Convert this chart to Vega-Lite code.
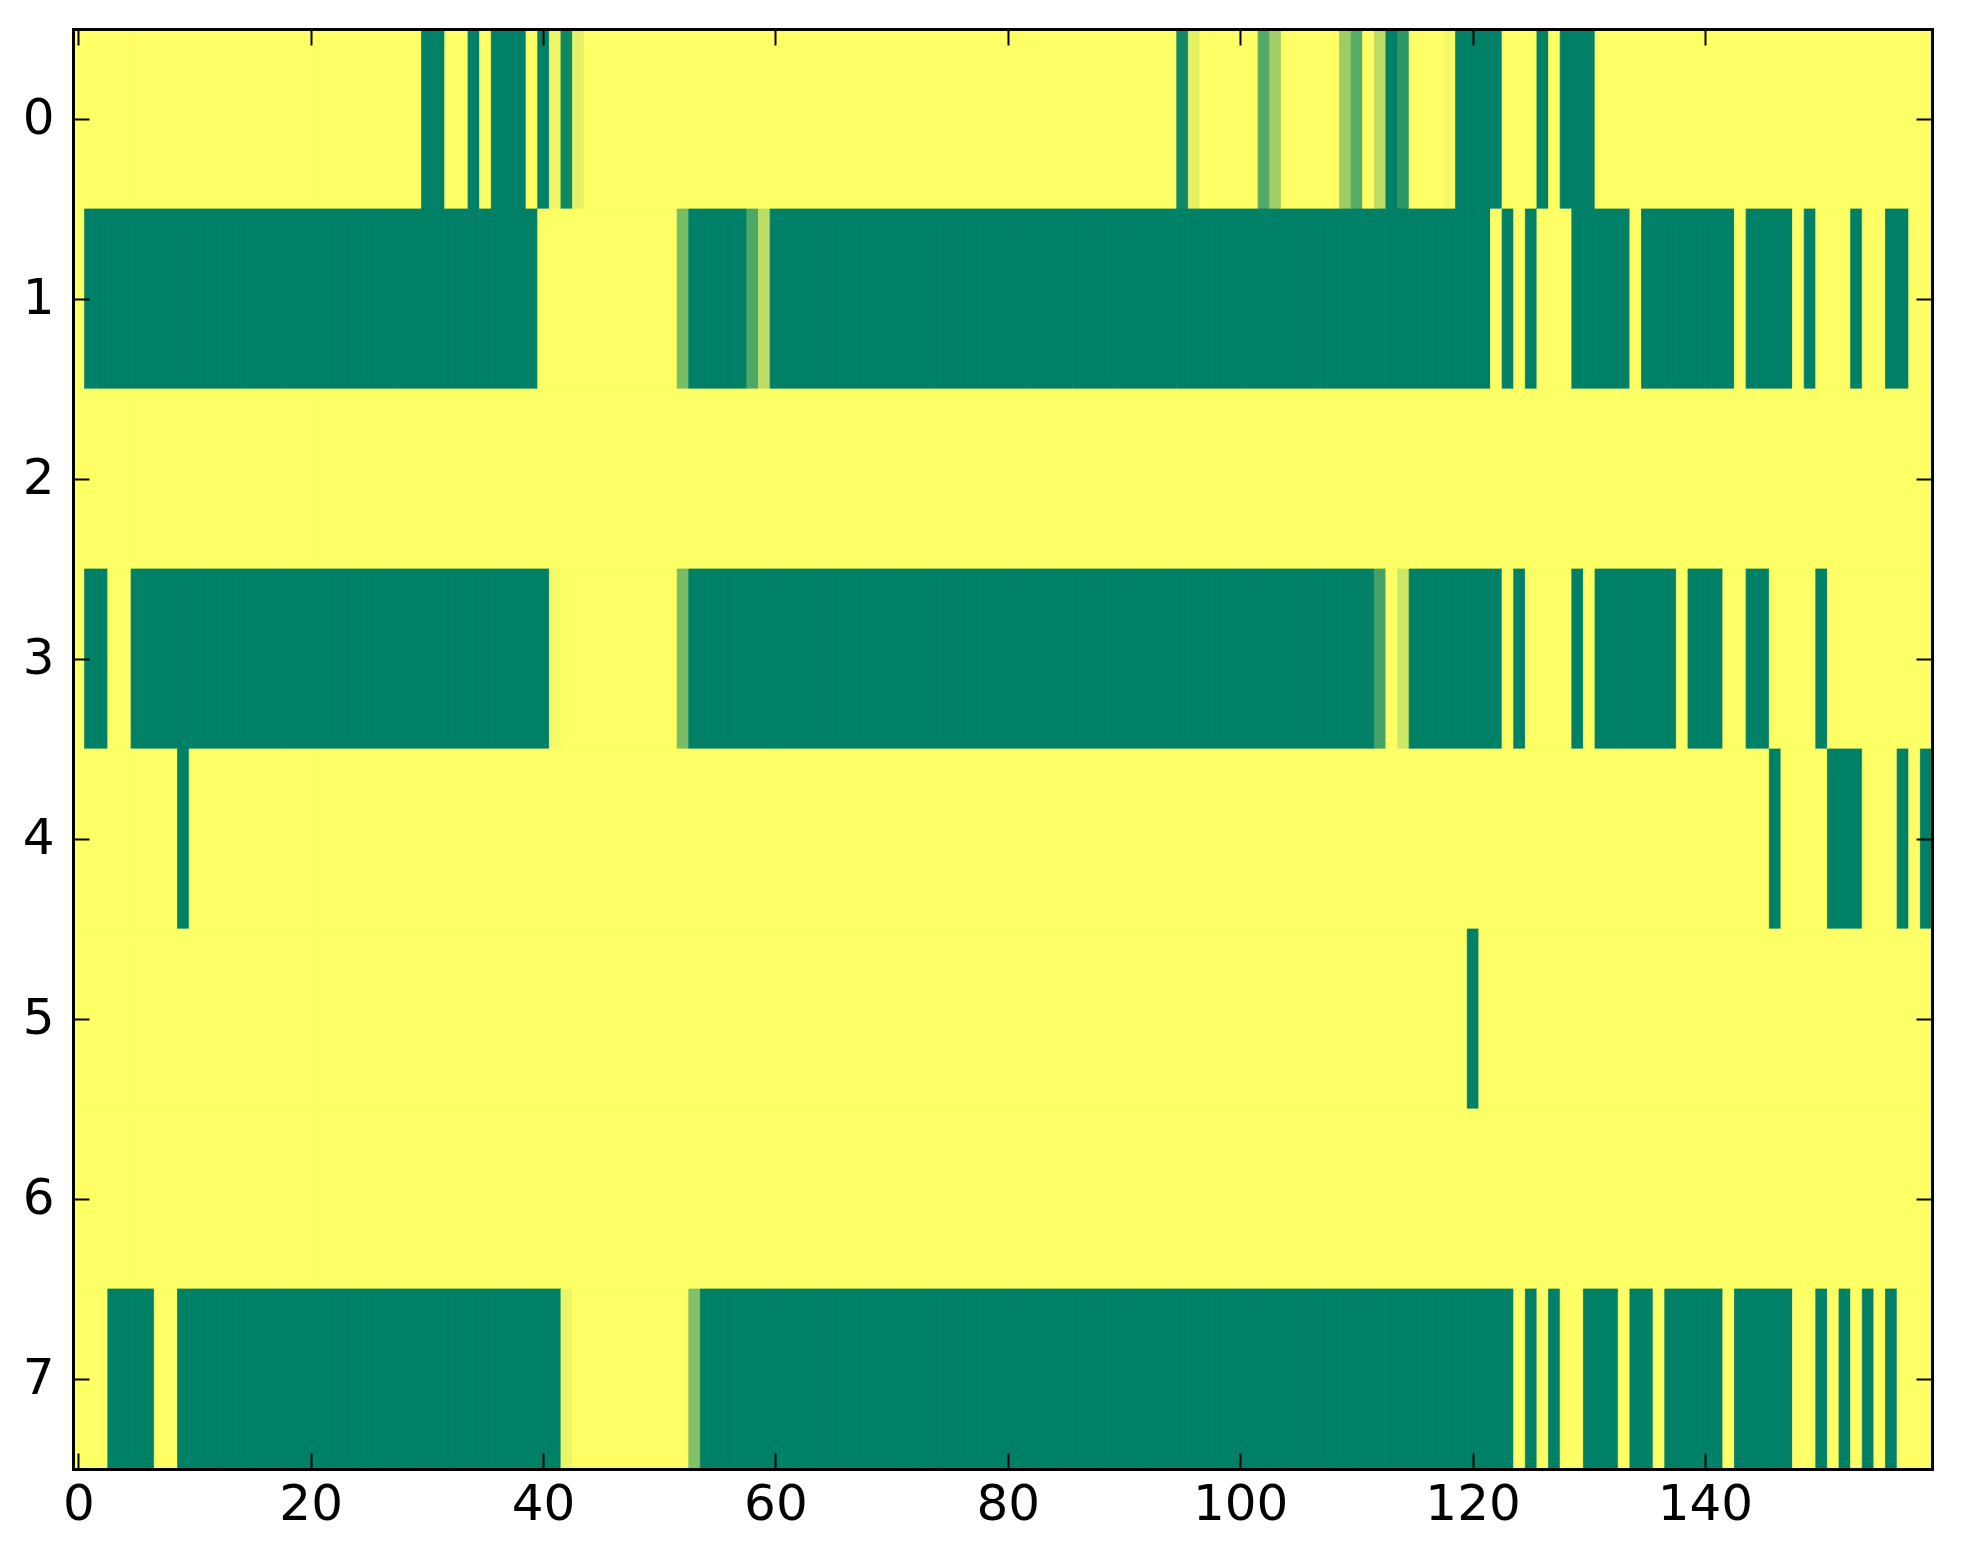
{
  "$schema": "https://vega.github.io/schema/vega-lite/v6.json",
  "width": 1859,
  "height": 1440,
  "autosize": {"type": "none"},
  "padding": {"left": 73, "top": 29, "right": 31, "bottom": 95},
  "background": "white",
  "config": {
    "view": {"stroke": null},
    "axis": {
      "labelFont": "DejaVu Sans",
      "labelFontSize": 50,
      "labelColor": "black",
      "tickColor": "black",
      "tickWidth": 2,
      "tickSize": -16,
      "domain": true,
      "domainColor": "black",
      "domainWidth": 3,
      "domainCap": "square",
      "grid": false,
      "labelAngle": 0
    }
  },
  "data": {"values": [
{"r":0,"c":0,"v":1},{"r":0,"c":1,"v":1},{"r":0,"c":2,"v":1},{"r":0,"c":3,"v":1},{"r":0,"c":4,"v":1},{"r":0,"c":5,"v":1},{"r":0,"c":6,"v":1},{"r":0,"c":7,"v":1},{"r":0,"c":8,"v":1},{"r":0,"c":9,"v":1},
{"r":0,"c":10,"v":1},{"r":0,"c":11,"v":1},{"r":0,"c":12,"v":1},{"r":0,"c":13,"v":1},{"r":0,"c":14,"v":1},{"r":0,"c":15,"v":1},{"r":0,"c":16,"v":1},{"r":0,"c":17,"v":1},{"r":0,"c":18,"v":1},{"r":0,"c":19,"v":1},
{"r":0,"c":20,"v":1},{"r":0,"c":21,"v":1},{"r":0,"c":22,"v":1},{"r":0,"c":23,"v":1},{"r":0,"c":24,"v":1},{"r":0,"c":25,"v":1},{"r":0,"c":26,"v":1},{"r":0,"c":27,"v":1},{"r":0,"c":28,"v":1},{"r":0,"c":29,"v":1},
{"r":0,"c":30,"v":0},{"r":0,"c":31,"v":0},{"r":0,"c":32,"v":1},{"r":0,"c":33,"v":1},{"r":0,"c":34,"v":0},{"r":0,"c":35,"v":1},{"r":0,"c":36,"v":0},{"r":0,"c":37,"v":0},{"r":0,"c":38,"v":0},{"r":0,"c":39,"v":1},
{"r":0,"c":40,"v":0},{"r":0,"c":41,"v":0.94},{"r":0,"c":42,"v":0.06},{"r":0,"c":43,"v":0.9},{"r":0,"c":44,"v":1},{"r":0,"c":45,"v":1},{"r":0,"c":46,"v":1},{"r":0,"c":47,"v":1},{"r":0,"c":48,"v":1},{"r":0,"c":49,"v":1},
{"r":0,"c":50,"v":1},{"r":0,"c":51,"v":1},{"r":0,"c":52,"v":1},{"r":0,"c":53,"v":1},{"r":0,"c":54,"v":1},{"r":0,"c":55,"v":1},{"r":0,"c":56,"v":1},{"r":0,"c":57,"v":1},{"r":0,"c":58,"v":1},{"r":0,"c":59,"v":1},
{"r":0,"c":60,"v":1},{"r":0,"c":61,"v":1},{"r":0,"c":62,"v":1},{"r":0,"c":63,"v":1},{"r":0,"c":64,"v":1},{"r":0,"c":65,"v":1},{"r":0,"c":66,"v":1},{"r":0,"c":67,"v":1},{"r":0,"c":68,"v":1},{"r":0,"c":69,"v":1},
{"r":0,"c":70,"v":1},{"r":0,"c":71,"v":1},{"r":0,"c":72,"v":1},{"r":0,"c":73,"v":1},{"r":0,"c":74,"v":1},{"r":0,"c":75,"v":1},{"r":0,"c":76,"v":1},{"r":0,"c":77,"v":1},{"r":0,"c":78,"v":1},{"r":0,"c":79,"v":1},
{"r":0,"c":80,"v":1},{"r":0,"c":81,"v":1},{"r":0,"c":82,"v":1},{"r":0,"c":83,"v":1},{"r":0,"c":84,"v":1},{"r":0,"c":85,"v":1},{"r":0,"c":86,"v":1},{"r":0,"c":87,"v":1},{"r":0,"c":88,"v":1},{"r":0,"c":89,"v":1},
{"r":0,"c":90,"v":1},{"r":0,"c":91,"v":1},{"r":0,"c":92,"v":1},{"r":0,"c":93,"v":1},{"r":0,"c":94,"v":1},{"r":0,"c":95,"v":0.07},{"r":0,"c":96,"v":0.9},{"r":0,"c":97,"v":1},{"r":0,"c":98,"v":1},{"r":0,"c":99,"v":1},
{"r":0,"c":100,"v":1},{"r":0,"c":101,"v":1},{"r":0,"c":102,"v":0.33},{"r":0,"c":103,"v":0.63},{"r":0,"c":104,"v":1},{"r":0,"c":105,"v":1},{"r":0,"c":106,"v":1},{"r":0,"c":107,"v":1},{"r":0,"c":108,"v":1},{"r":0,"c":109,"v":0.61},
{"r":0,"c":110,"v":0.35},{"r":0,"c":111,"v":1},{"r":0,"c":112,"v":0.74},{"r":0,"c":113,"v":0},{"r":0,"c":114,"v":0.18},{"r":0,"c":115,"v":1},{"r":0,"c":116,"v":1},{"r":0,"c":117,"v":1},{"r":0,"c":118,"v":0.96},{"r":0,"c":119,"v":0},
{"r":0,"c":120,"v":0},{"r":0,"c":121,"v":0},{"r":0,"c":122,"v":0},{"r":0,"c":123,"v":1},{"r":0,"c":124,"v":1},{"r":0,"c":125,"v":1},{"r":0,"c":126,"v":0},{"r":0,"c":127,"v":1},{"r":0,"c":128,"v":0},{"r":0,"c":129,"v":0},
{"r":0,"c":130,"v":0},{"r":0,"c":131,"v":1},{"r":0,"c":132,"v":1},{"r":0,"c":133,"v":1},{"r":0,"c":134,"v":1},{"r":0,"c":135,"v":1},{"r":0,"c":136,"v":1},{"r":0,"c":137,"v":1},{"r":0,"c":138,"v":1},{"r":0,"c":139,"v":1},
{"r":0,"c":140,"v":1},{"r":0,"c":141,"v":1},{"r":0,"c":142,"v":1},{"r":0,"c":143,"v":1},{"r":0,"c":144,"v":1},{"r":0,"c":145,"v":1},{"r":0,"c":146,"v":1},{"r":0,"c":147,"v":1},{"r":0,"c":148,"v":1},{"r":0,"c":149,"v":1},
{"r":0,"c":150,"v":1},{"r":0,"c":151,"v":1},{"r":0,"c":152,"v":1},{"r":0,"c":153,"v":1},{"r":0,"c":154,"v":1},{"r":0,"c":155,"v":1},{"r":0,"c":156,"v":1},{"r":0,"c":157,"v":1},{"r":0,"c":158,"v":1},{"r":0,"c":159,"v":1},
{"r":1,"c":0,"v":1},{"r":1,"c":1,"v":0},{"r":1,"c":2,"v":0},{"r":1,"c":3,"v":0},{"r":1,"c":4,"v":0},{"r":1,"c":5,"v":0},{"r":1,"c":6,"v":0},{"r":1,"c":7,"v":0},{"r":1,"c":8,"v":0},{"r":1,"c":9,"v":0},
{"r":1,"c":10,"v":0},{"r":1,"c":11,"v":0},{"r":1,"c":12,"v":0},{"r":1,"c":13,"v":0},{"r":1,"c":14,"v":0},{"r":1,"c":15,"v":0},{"r":1,"c":16,"v":0},{"r":1,"c":17,"v":0},{"r":1,"c":18,"v":0},{"r":1,"c":19,"v":0},
{"r":1,"c":20,"v":0},{"r":1,"c":21,"v":0},{"r":1,"c":22,"v":0},{"r":1,"c":23,"v":0},{"r":1,"c":24,"v":0},{"r":1,"c":25,"v":0},{"r":1,"c":26,"v":0},{"r":1,"c":27,"v":0},{"r":1,"c":28,"v":0},{"r":1,"c":29,"v":0},
{"r":1,"c":30,"v":0},{"r":1,"c":31,"v":0},{"r":1,"c":32,"v":0},{"r":1,"c":33,"v":0},{"r":1,"c":34,"v":0},{"r":1,"c":35,"v":0},{"r":1,"c":36,"v":0},{"r":1,"c":37,"v":0},{"r":1,"c":38,"v":0},{"r":1,"c":39,"v":0},
{"r":1,"c":40,"v":1},{"r":1,"c":41,"v":1},{"r":1,"c":42,"v":1},{"r":1,"c":43,"v":1},{"r":1,"c":44,"v":1},{"r":1,"c":45,"v":1},{"r":1,"c":46,"v":1},{"r":1,"c":47,"v":1},{"r":1,"c":48,"v":1},{"r":1,"c":49,"v":1},
{"r":1,"c":50,"v":1},{"r":1,"c":51,"v":1},{"r":1,"c":52,"v":0.47},{"r":1,"c":53,"v":0},{"r":1,"c":54,"v":0},{"r":1,"c":55,"v":0},{"r":1,"c":56,"v":0},{"r":1,"c":57,"v":0},{"r":1,"c":58,"v":0.31},{"r":1,"c":59,"v":0.74},
{"r":1,"c":60,"v":0},{"r":1,"c":61,"v":0},{"r":1,"c":62,"v":0},{"r":1,"c":63,"v":0},{"r":1,"c":64,"v":0},{"r":1,"c":65,"v":0},{"r":1,"c":66,"v":0},{"r":1,"c":67,"v":0},{"r":1,"c":68,"v":0},{"r":1,"c":69,"v":0},
{"r":1,"c":70,"v":0},{"r":1,"c":71,"v":0},{"r":1,"c":72,"v":0},{"r":1,"c":73,"v":0},{"r":1,"c":74,"v":0},{"r":1,"c":75,"v":0},{"r":1,"c":76,"v":0},{"r":1,"c":77,"v":0},{"r":1,"c":78,"v":0},{"r":1,"c":79,"v":0},
{"r":1,"c":80,"v":0},{"r":1,"c":81,"v":0},{"r":1,"c":82,"v":0},{"r":1,"c":83,"v":0},{"r":1,"c":84,"v":0},{"r":1,"c":85,"v":0},{"r":1,"c":86,"v":0},{"r":1,"c":87,"v":0},{"r":1,"c":88,"v":0},{"r":1,"c":89,"v":0},
{"r":1,"c":90,"v":0},{"r":1,"c":91,"v":0},{"r":1,"c":92,"v":0},{"r":1,"c":93,"v":0},{"r":1,"c":94,"v":0},{"r":1,"c":95,"v":0},{"r":1,"c":96,"v":0},{"r":1,"c":97,"v":0},{"r":1,"c":98,"v":0},{"r":1,"c":99,"v":0},
{"r":1,"c":100,"v":0},{"r":1,"c":101,"v":0},{"r":1,"c":102,"v":0},{"r":1,"c":103,"v":0},{"r":1,"c":104,"v":0},{"r":1,"c":105,"v":0},{"r":1,"c":106,"v":0},{"r":1,"c":107,"v":0},{"r":1,"c":108,"v":0},{"r":1,"c":109,"v":0},
{"r":1,"c":110,"v":0},{"r":1,"c":111,"v":0},{"r":1,"c":112,"v":0},{"r":1,"c":113,"v":0},{"r":1,"c":114,"v":0},{"r":1,"c":115,"v":0},{"r":1,"c":116,"v":0},{"r":1,"c":117,"v":0},{"r":1,"c":118,"v":0},{"r":1,"c":119,"v":0},
{"r":1,"c":120,"v":0},{"r":1,"c":121,"v":0},{"r":1,"c":122,"v":1},{"r":1,"c":123,"v":0},{"r":1,"c":124,"v":1},{"r":1,"c":125,"v":0},{"r":1,"c":126,"v":1},{"r":1,"c":127,"v":1},{"r":1,"c":128,"v":1},{"r":1,"c":129,"v":0},
{"r":1,"c":130,"v":0},{"r":1,"c":131,"v":0},{"r":1,"c":132,"v":0},{"r":1,"c":133,"v":0},{"r":1,"c":134,"v":1},{"r":1,"c":135,"v":0},{"r":1,"c":136,"v":0},{"r":1,"c":137,"v":0},{"r":1,"c":138,"v":0},{"r":1,"c":139,"v":0},
{"r":1,"c":140,"v":0},{"r":1,"c":141,"v":0},{"r":1,"c":142,"v":0},{"r":1,"c":143,"v":1},{"r":1,"c":144,"v":0},{"r":1,"c":145,"v":0},{"r":1,"c":146,"v":0},{"r":1,"c":147,"v":0},{"r":1,"c":148,"v":1},{"r":1,"c":149,"v":0},
{"r":1,"c":150,"v":1},{"r":1,"c":151,"v":1},{"r":1,"c":152,"v":1},{"r":1,"c":153,"v":0},{"r":1,"c":154,"v":1},{"r":1,"c":155,"v":1},{"r":1,"c":156,"v":0},{"r":1,"c":157,"v":0},{"r":1,"c":158,"v":1},{"r":1,"c":159,"v":1},
{"r":2,"c":0,"v":1},{"r":2,"c":1,"v":1},{"r":2,"c":2,"v":1},{"r":2,"c":3,"v":1},{"r":2,"c":4,"v":1},{"r":2,"c":5,"v":1},{"r":2,"c":6,"v":1},{"r":2,"c":7,"v":1},{"r":2,"c":8,"v":1},{"r":2,"c":9,"v":1},
{"r":2,"c":10,"v":1},{"r":2,"c":11,"v":1},{"r":2,"c":12,"v":1},{"r":2,"c":13,"v":1},{"r":2,"c":14,"v":1},{"r":2,"c":15,"v":1},{"r":2,"c":16,"v":1},{"r":2,"c":17,"v":1},{"r":2,"c":18,"v":1},{"r":2,"c":19,"v":1},
{"r":2,"c":20,"v":1},{"r":2,"c":21,"v":1},{"r":2,"c":22,"v":1},{"r":2,"c":23,"v":1},{"r":2,"c":24,"v":1},{"r":2,"c":25,"v":1},{"r":2,"c":26,"v":1},{"r":2,"c":27,"v":1},{"r":2,"c":28,"v":1},{"r":2,"c":29,"v":1},
{"r":2,"c":30,"v":1},{"r":2,"c":31,"v":1},{"r":2,"c":32,"v":1},{"r":2,"c":33,"v":1},{"r":2,"c":34,"v":1},{"r":2,"c":35,"v":1},{"r":2,"c":36,"v":1},{"r":2,"c":37,"v":1},{"r":2,"c":38,"v":1},{"r":2,"c":39,"v":1},
{"r":2,"c":40,"v":1},{"r":2,"c":41,"v":1},{"r":2,"c":42,"v":1},{"r":2,"c":43,"v":1},{"r":2,"c":44,"v":1},{"r":2,"c":45,"v":1},{"r":2,"c":46,"v":1},{"r":2,"c":47,"v":1},{"r":2,"c":48,"v":1},{"r":2,"c":49,"v":1},
{"r":2,"c":50,"v":1},{"r":2,"c":51,"v":1},{"r":2,"c":52,"v":1},{"r":2,"c":53,"v":1},{"r":2,"c":54,"v":1},{"r":2,"c":55,"v":1},{"r":2,"c":56,"v":1},{"r":2,"c":57,"v":1},{"r":2,"c":58,"v":1},{"r":2,"c":59,"v":1},
{"r":2,"c":60,"v":1},{"r":2,"c":61,"v":1},{"r":2,"c":62,"v":1},{"r":2,"c":63,"v":1},{"r":2,"c":64,"v":1},{"r":2,"c":65,"v":1},{"r":2,"c":66,"v":1},{"r":2,"c":67,"v":1},{"r":2,"c":68,"v":1},{"r":2,"c":69,"v":1},
{"r":2,"c":70,"v":1},{"r":2,"c":71,"v":1},{"r":2,"c":72,"v":1},{"r":2,"c":73,"v":1},{"r":2,"c":74,"v":1},{"r":2,"c":75,"v":1},{"r":2,"c":76,"v":1},{"r":2,"c":77,"v":1},{"r":2,"c":78,"v":1},{"r":2,"c":79,"v":1},
{"r":2,"c":80,"v":1},{"r":2,"c":81,"v":1},{"r":2,"c":82,"v":1},{"r":2,"c":83,"v":1},{"r":2,"c":84,"v":1},{"r":2,"c":85,"v":1},{"r":2,"c":86,"v":1},{"r":2,"c":87,"v":1},{"r":2,"c":88,"v":1},{"r":2,"c":89,"v":1},
{"r":2,"c":90,"v":1},{"r":2,"c":91,"v":1},{"r":2,"c":92,"v":1},{"r":2,"c":93,"v":1},{"r":2,"c":94,"v":1},{"r":2,"c":95,"v":1},{"r":2,"c":96,"v":1},{"r":2,"c":97,"v":1},{"r":2,"c":98,"v":1},{"r":2,"c":99,"v":1},
{"r":2,"c":100,"v":1},{"r":2,"c":101,"v":1},{"r":2,"c":102,"v":1},{"r":2,"c":103,"v":1},{"r":2,"c":104,"v":1},{"r":2,"c":105,"v":1},{"r":2,"c":106,"v":1},{"r":2,"c":107,"v":1},{"r":2,"c":108,"v":1},{"r":2,"c":109,"v":1},
{"r":2,"c":110,"v":1},{"r":2,"c":111,"v":1},{"r":2,"c":112,"v":1},{"r":2,"c":113,"v":1},{"r":2,"c":114,"v":1},{"r":2,"c":115,"v":1},{"r":2,"c":116,"v":1},{"r":2,"c":117,"v":1},{"r":2,"c":118,"v":1},{"r":2,"c":119,"v":1},
{"r":2,"c":120,"v":1},{"r":2,"c":121,"v":1},{"r":2,"c":122,"v":1},{"r":2,"c":123,"v":1},{"r":2,"c":124,"v":1},{"r":2,"c":125,"v":1},{"r":2,"c":126,"v":1},{"r":2,"c":127,"v":1},{"r":2,"c":128,"v":1},{"r":2,"c":129,"v":1},
{"r":2,"c":130,"v":1},{"r":2,"c":131,"v":1},{"r":2,"c":132,"v":1},{"r":2,"c":133,"v":1},{"r":2,"c":134,"v":1},{"r":2,"c":135,"v":1},{"r":2,"c":136,"v":1},{"r":2,"c":137,"v":1},{"r":2,"c":138,"v":1},{"r":2,"c":139,"v":1},
{"r":2,"c":140,"v":1},{"r":2,"c":141,"v":1},{"r":2,"c":142,"v":1},{"r":2,"c":143,"v":1},{"r":2,"c":144,"v":1},{"r":2,"c":145,"v":1},{"r":2,"c":146,"v":1},{"r":2,"c":147,"v":1},{"r":2,"c":148,"v":1},{"r":2,"c":149,"v":1},
{"r":2,"c":150,"v":1},{"r":2,"c":151,"v":1},{"r":2,"c":152,"v":1},{"r":2,"c":153,"v":1},{"r":2,"c":154,"v":1},{"r":2,"c":155,"v":1},{"r":2,"c":156,"v":1},{"r":2,"c":157,"v":1},{"r":2,"c":158,"v":1},{"r":2,"c":159,"v":1},
{"r":3,"c":0,"v":1},{"r":3,"c":1,"v":0},{"r":3,"c":2,"v":0},{"r":3,"c":3,"v":1},{"r":3,"c":4,"v":1},{"r":3,"c":5,"v":0},{"r":3,"c":6,"v":0},{"r":3,"c":7,"v":0},{"r":3,"c":8,"v":0},{"r":3,"c":9,"v":0},
{"r":3,"c":10,"v":0},{"r":3,"c":11,"v":0},{"r":3,"c":12,"v":0},{"r":3,"c":13,"v":0},{"r":3,"c":14,"v":0},{"r":3,"c":15,"v":0},{"r":3,"c":16,"v":0},{"r":3,"c":17,"v":0},{"r":3,"c":18,"v":0},{"r":3,"c":19,"v":0},
{"r":3,"c":20,"v":0},{"r":3,"c":21,"v":0},{"r":3,"c":22,"v":0},{"r":3,"c":23,"v":0},{"r":3,"c":24,"v":0},{"r":3,"c":25,"v":0},{"r":3,"c":26,"v":0},{"r":3,"c":27,"v":0},{"r":3,"c":28,"v":0},{"r":3,"c":29,"v":0},
{"r":3,"c":30,"v":0},{"r":3,"c":31,"v":0},{"r":3,"c":32,"v":0},{"r":3,"c":33,"v":0},{"r":3,"c":34,"v":0},{"r":3,"c":35,"v":0},{"r":3,"c":36,"v":0},{"r":3,"c":37,"v":0},{"r":3,"c":38,"v":0},{"r":3,"c":39,"v":0},
{"r":3,"c":40,"v":0},{"r":3,"c":41,"v":0.96},{"r":3,"c":42,"v":1},{"r":3,"c":43,"v":1},{"r":3,"c":44,"v":1},{"r":3,"c":45,"v":1},{"r":3,"c":46,"v":1},{"r":3,"c":47,"v":1},{"r":3,"c":48,"v":1},{"r":3,"c":49,"v":1},
{"r":3,"c":50,"v":1},{"r":3,"c":51,"v":1},{"r":3,"c":52,"v":0.47},{"r":3,"c":53,"v":0},{"r":3,"c":54,"v":0},{"r":3,"c":55,"v":0},{"r":3,"c":56,"v":0},{"r":3,"c":57,"v":0},{"r":3,"c":58,"v":0},{"r":3,"c":59,"v":0},
{"r":3,"c":60,"v":0},{"r":3,"c":61,"v":0},{"r":3,"c":62,"v":0},{"r":3,"c":63,"v":0},{"r":3,"c":64,"v":0},{"r":3,"c":65,"v":0},{"r":3,"c":66,"v":0},{"r":3,"c":67,"v":0},{"r":3,"c":68,"v":0},{"r":3,"c":69,"v":0},
{"r":3,"c":70,"v":0},{"r":3,"c":71,"v":0},{"r":3,"c":72,"v":0},{"r":3,"c":73,"v":0},{"r":3,"c":74,"v":0},{"r":3,"c":75,"v":0},{"r":3,"c":76,"v":0},{"r":3,"c":77,"v":0},{"r":3,"c":78,"v":0},{"r":3,"c":79,"v":0},
{"r":3,"c":80,"v":0},{"r":3,"c":81,"v":0},{"r":3,"c":82,"v":0},{"r":3,"c":83,"v":0},{"r":3,"c":84,"v":0},{"r":3,"c":85,"v":0},{"r":3,"c":86,"v":0},{"r":3,"c":87,"v":0},{"r":3,"c":88,"v":0},{"r":3,"c":89,"v":0},
{"r":3,"c":90,"v":0},{"r":3,"c":91,"v":0},{"r":3,"c":92,"v":0},{"r":3,"c":93,"v":0},{"r":3,"c":94,"v":0},{"r":3,"c":95,"v":0},{"r":3,"c":96,"v":0},{"r":3,"c":97,"v":0},{"r":3,"c":98,"v":0},{"r":3,"c":99,"v":0},
{"r":3,"c":100,"v":0},{"r":3,"c":101,"v":0},{"r":3,"c":102,"v":0},{"r":3,"c":103,"v":0},{"r":3,"c":104,"v":0},{"r":3,"c":105,"v":0},{"r":3,"c":106,"v":0},{"r":3,"c":107,"v":0},{"r":3,"c":108,"v":0},{"r":3,"c":109,"v":0},
{"r":3,"c":110,"v":0},{"r":3,"c":111,"v":0},{"r":3,"c":112,"v":0.27},{"r":3,"c":113,"v":1},{"r":3,"c":114,"v":0.81},{"r":3,"c":115,"v":0},{"r":3,"c":116,"v":0},{"r":3,"c":117,"v":0},{"r":3,"c":118,"v":0},{"r":3,"c":119,"v":0},
{"r":3,"c":120,"v":0},{"r":3,"c":121,"v":0},{"r":3,"c":122,"v":0},{"r":3,"c":123,"v":1},{"r":3,"c":124,"v":0},{"r":3,"c":125,"v":1},{"r":3,"c":126,"v":1},{"r":3,"c":127,"v":1},{"r":3,"c":128,"v":1},{"r":3,"c":129,"v":0},
{"r":3,"c":130,"v":1},{"r":3,"c":131,"v":0},{"r":3,"c":132,"v":0},{"r":3,"c":133,"v":0},{"r":3,"c":134,"v":0},{"r":3,"c":135,"v":0},{"r":3,"c":136,"v":0},{"r":3,"c":137,"v":0},{"r":3,"c":138,"v":1},{"r":3,"c":139,"v":0},
{"r":3,"c":140,"v":0},{"r":3,"c":141,"v":0},{"r":3,"c":142,"v":1},{"r":3,"c":143,"v":1},{"r":3,"c":144,"v":0},{"r":3,"c":145,"v":0},{"r":3,"c":146,"v":1},{"r":3,"c":147,"v":1},{"r":3,"c":148,"v":1},{"r":3,"c":149,"v":1},
{"r":3,"c":150,"v":0},{"r":3,"c":151,"v":1},{"r":3,"c":152,"v":1},{"r":3,"c":153,"v":1},{"r":3,"c":154,"v":1},{"r":3,"c":155,"v":1},{"r":3,"c":156,"v":1},{"r":3,"c":157,"v":1},{"r":3,"c":158,"v":1},{"r":3,"c":159,"v":1},
{"r":4,"c":0,"v":1},{"r":4,"c":1,"v":1},{"r":4,"c":2,"v":1},{"r":4,"c":3,"v":1},{"r":4,"c":4,"v":1},{"r":4,"c":5,"v":1},{"r":4,"c":6,"v":1},{"r":4,"c":7,"v":1},{"r":4,"c":8,"v":1},{"r":4,"c":9,"v":0},
{"r":4,"c":10,"v":1},{"r":4,"c":11,"v":1},{"r":4,"c":12,"v":1},{"r":4,"c":13,"v":1},{"r":4,"c":14,"v":1},{"r":4,"c":15,"v":1},{"r":4,"c":16,"v":1},{"r":4,"c":17,"v":1},{"r":4,"c":18,"v":1},{"r":4,"c":19,"v":1},
{"r":4,"c":20,"v":1},{"r":4,"c":21,"v":1},{"r":4,"c":22,"v":1},{"r":4,"c":23,"v":1},{"r":4,"c":24,"v":1},{"r":4,"c":25,"v":1},{"r":4,"c":26,"v":1},{"r":4,"c":27,"v":1},{"r":4,"c":28,"v":1},{"r":4,"c":29,"v":1},
{"r":4,"c":30,"v":1},{"r":4,"c":31,"v":1},{"r":4,"c":32,"v":1},{"r":4,"c":33,"v":1},{"r":4,"c":34,"v":1},{"r":4,"c":35,"v":1},{"r":4,"c":36,"v":1},{"r":4,"c":37,"v":1},{"r":4,"c":38,"v":1},{"r":4,"c":39,"v":1},
{"r":4,"c":40,"v":1},{"r":4,"c":41,"v":1},{"r":4,"c":42,"v":1},{"r":4,"c":43,"v":1},{"r":4,"c":44,"v":1},{"r":4,"c":45,"v":1},{"r":4,"c":46,"v":1},{"r":4,"c":47,"v":1},{"r":4,"c":48,"v":1},{"r":4,"c":49,"v":1},
{"r":4,"c":50,"v":1},{"r":4,"c":51,"v":1},{"r":4,"c":52,"v":1},{"r":4,"c":53,"v":1},{"r":4,"c":54,"v":1},{"r":4,"c":55,"v":1},{"r":4,"c":56,"v":1},{"r":4,"c":57,"v":1},{"r":4,"c":58,"v":1},{"r":4,"c":59,"v":1},
{"r":4,"c":60,"v":1},{"r":4,"c":61,"v":1},{"r":4,"c":62,"v":1},{"r":4,"c":63,"v":1},{"r":4,"c":64,"v":1},{"r":4,"c":65,"v":1},{"r":4,"c":66,"v":1},{"r":4,"c":67,"v":1},{"r":4,"c":68,"v":1},{"r":4,"c":69,"v":1},
{"r":4,"c":70,"v":1},{"r":4,"c":71,"v":1},{"r":4,"c":72,"v":1},{"r":4,"c":73,"v":1},{"r":4,"c":74,"v":1},{"r":4,"c":75,"v":1},{"r":4,"c":76,"v":1},{"r":4,"c":77,"v":1},{"r":4,"c":78,"v":1},{"r":4,"c":79,"v":1},
{"r":4,"c":80,"v":1},{"r":4,"c":81,"v":1},{"r":4,"c":82,"v":1},{"r":4,"c":83,"v":1},{"r":4,"c":84,"v":1},{"r":4,"c":85,"v":1},{"r":4,"c":86,"v":1},{"r":4,"c":87,"v":1},{"r":4,"c":88,"v":1},{"r":4,"c":89,"v":1},
{"r":4,"c":90,"v":1},{"r":4,"c":91,"v":1},{"r":4,"c":92,"v":1},{"r":4,"c":93,"v":1},{"r":4,"c":94,"v":1},{"r":4,"c":95,"v":1},{"r":4,"c":96,"v":1},{"r":4,"c":97,"v":1},{"r":4,"c":98,"v":1},{"r":4,"c":99,"v":1},
{"r":4,"c":100,"v":1},{"r":4,"c":101,"v":1},{"r":4,"c":102,"v":1},{"r":4,"c":103,"v":1},{"r":4,"c":104,"v":1},{"r":4,"c":105,"v":1},{"r":4,"c":106,"v":1},{"r":4,"c":107,"v":1},{"r":4,"c":108,"v":1},{"r":4,"c":109,"v":1},
{"r":4,"c":110,"v":1},{"r":4,"c":111,"v":1},{"r":4,"c":112,"v":1},{"r":4,"c":113,"v":1},{"r":4,"c":114,"v":1},{"r":4,"c":115,"v":1},{"r":4,"c":116,"v":1},{"r":4,"c":117,"v":1},{"r":4,"c":118,"v":1},{"r":4,"c":119,"v":1},
{"r":4,"c":120,"v":1},{"r":4,"c":121,"v":1},{"r":4,"c":122,"v":1},{"r":4,"c":123,"v":1},{"r":4,"c":124,"v":1},{"r":4,"c":125,"v":1},{"r":4,"c":126,"v":1},{"r":4,"c":127,"v":1},{"r":4,"c":128,"v":1},{"r":4,"c":129,"v":1},
{"r":4,"c":130,"v":1},{"r":4,"c":131,"v":1},{"r":4,"c":132,"v":1},{"r":4,"c":133,"v":1},{"r":4,"c":134,"v":1},{"r":4,"c":135,"v":1},{"r":4,"c":136,"v":1},{"r":4,"c":137,"v":1},{"r":4,"c":138,"v":1},{"r":4,"c":139,"v":1},
{"r":4,"c":140,"v":1},{"r":4,"c":141,"v":1},{"r":4,"c":142,"v":1},{"r":4,"c":143,"v":1},{"r":4,"c":144,"v":1},{"r":4,"c":145,"v":1},{"r":4,"c":146,"v":0},{"r":4,"c":147,"v":1},{"r":4,"c":148,"v":1},{"r":4,"c":149,"v":1},
{"r":4,"c":150,"v":1},{"r":4,"c":151,"v":0},{"r":4,"c":152,"v":0},{"r":4,"c":153,"v":0},{"r":4,"c":154,"v":1},{"r":4,"c":155,"v":1},{"r":4,"c":156,"v":1},{"r":4,"c":157,"v":0},{"r":4,"c":158,"v":1},{"r":4,"c":159,"v":0},
{"r":5,"c":0,"v":1},{"r":5,"c":1,"v":1},{"r":5,"c":2,"v":1},{"r":5,"c":3,"v":1},{"r":5,"c":4,"v":1},{"r":5,"c":5,"v":1},{"r":5,"c":6,"v":1},{"r":5,"c":7,"v":1},{"r":5,"c":8,"v":1},{"r":5,"c":9,"v":1},
{"r":5,"c":10,"v":1},{"r":5,"c":11,"v":1},{"r":5,"c":12,"v":1},{"r":5,"c":13,"v":1},{"r":5,"c":14,"v":1},{"r":5,"c":15,"v":1},{"r":5,"c":16,"v":1},{"r":5,"c":17,"v":1},{"r":5,"c":18,"v":1},{"r":5,"c":19,"v":1},
{"r":5,"c":20,"v":1},{"r":5,"c":21,"v":1},{"r":5,"c":22,"v":1},{"r":5,"c":23,"v":1},{"r":5,"c":24,"v":1},{"r":5,"c":25,"v":1},{"r":5,"c":26,"v":1},{"r":5,"c":27,"v":1},{"r":5,"c":28,"v":1},{"r":5,"c":29,"v":1},
{"r":5,"c":30,"v":1},{"r":5,"c":31,"v":1},{"r":5,"c":32,"v":1},{"r":5,"c":33,"v":1},{"r":5,"c":34,"v":1},{"r":5,"c":35,"v":1},{"r":5,"c":36,"v":1},{"r":5,"c":37,"v":1},{"r":5,"c":38,"v":1},{"r":5,"c":39,"v":1},
{"r":5,"c":40,"v":1},{"r":5,"c":41,"v":1},{"r":5,"c":42,"v":1},{"r":5,"c":43,"v":1},{"r":5,"c":44,"v":1},{"r":5,"c":45,"v":1},{"r":5,"c":46,"v":1},{"r":5,"c":47,"v":1},{"r":5,"c":48,"v":1},{"r":5,"c":49,"v":1},
{"r":5,"c":50,"v":1},{"r":5,"c":51,"v":1},{"r":5,"c":52,"v":1},{"r":5,"c":53,"v":1},{"r":5,"c":54,"v":1},{"r":5,"c":55,"v":1},{"r":5,"c":56,"v":1},{"r":5,"c":57,"v":1},{"r":5,"c":58,"v":1},{"r":5,"c":59,"v":1},
{"r":5,"c":60,"v":1},{"r":5,"c":61,"v":1},{"r":5,"c":62,"v":1},{"r":5,"c":63,"v":1},{"r":5,"c":64,"v":1},{"r":5,"c":65,"v":1},{"r":5,"c":66,"v":1},{"r":5,"c":67,"v":1},{"r":5,"c":68,"v":1},{"r":5,"c":69,"v":1},
{"r":5,"c":70,"v":1},{"r":5,"c":71,"v":1},{"r":5,"c":72,"v":1},{"r":5,"c":73,"v":1},{"r":5,"c":74,"v":1},{"r":5,"c":75,"v":1},{"r":5,"c":76,"v":1},{"r":5,"c":77,"v":1},{"r":5,"c":78,"v":1},{"r":5,"c":79,"v":1},
{"r":5,"c":80,"v":1},{"r":5,"c":81,"v":1},{"r":5,"c":82,"v":1},{"r":5,"c":83,"v":1},{"r":5,"c":84,"v":1},{"r":5,"c":85,"v":1},{"r":5,"c":86,"v":1},{"r":5,"c":87,"v":1},{"r":5,"c":88,"v":1},{"r":5,"c":89,"v":1},
{"r":5,"c":90,"v":1},{"r":5,"c":91,"v":1},{"r":5,"c":92,"v":1},{"r":5,"c":93,"v":1},{"r":5,"c":94,"v":1},{"r":5,"c":95,"v":1},{"r":5,"c":96,"v":1},{"r":5,"c":97,"v":1},{"r":5,"c":98,"v":1},{"r":5,"c":99,"v":1},
{"r":5,"c":100,"v":1},{"r":5,"c":101,"v":1},{"r":5,"c":102,"v":1},{"r":5,"c":103,"v":1},{"r":5,"c":104,"v":1},{"r":5,"c":105,"v":1},{"r":5,"c":106,"v":1},{"r":5,"c":107,"v":1},{"r":5,"c":108,"v":1},{"r":5,"c":109,"v":1},
{"r":5,"c":110,"v":1},{"r":5,"c":111,"v":1},{"r":5,"c":112,"v":1},{"r":5,"c":113,"v":1},{"r":5,"c":114,"v":1},{"r":5,"c":115,"v":1},{"r":5,"c":116,"v":1},{"r":5,"c":117,"v":1},{"r":5,"c":118,"v":1},{"r":5,"c":119,"v":1},
{"r":5,"c":120,"v":0},{"r":5,"c":121,"v":1},{"r":5,"c":122,"v":1},{"r":5,"c":123,"v":1},{"r":5,"c":124,"v":1},{"r":5,"c":125,"v":1},{"r":5,"c":126,"v":1},{"r":5,"c":127,"v":1},{"r":5,"c":128,"v":1},{"r":5,"c":129,"v":1},
{"r":5,"c":130,"v":1},{"r":5,"c":131,"v":1},{"r":5,"c":132,"v":1},{"r":5,"c":133,"v":1},{"r":5,"c":134,"v":1},{"r":5,"c":135,"v":1},{"r":5,"c":136,"v":1},{"r":5,"c":137,"v":1},{"r":5,"c":138,"v":1},{"r":5,"c":139,"v":1},
{"r":5,"c":140,"v":1},{"r":5,"c":141,"v":1},{"r":5,"c":142,"v":1},{"r":5,"c":143,"v":1},{"r":5,"c":144,"v":1},{"r":5,"c":145,"v":1},{"r":5,"c":146,"v":1},{"r":5,"c":147,"v":1},{"r":5,"c":148,"v":1},{"r":5,"c":149,"v":1},
{"r":5,"c":150,"v":1},{"r":5,"c":151,"v":1},{"r":5,"c":152,"v":1},{"r":5,"c":153,"v":1},{"r":5,"c":154,"v":1},{"r":5,"c":155,"v":1},{"r":5,"c":156,"v":1},{"r":5,"c":157,"v":1},{"r":5,"c":158,"v":1},{"r":5,"c":159,"v":1},
{"r":6,"c":0,"v":1},{"r":6,"c":1,"v":1},{"r":6,"c":2,"v":1},{"r":6,"c":3,"v":1},{"r":6,"c":4,"v":1},{"r":6,"c":5,"v":1},{"r":6,"c":6,"v":1},{"r":6,"c":7,"v":1},{"r":6,"c":8,"v":1},{"r":6,"c":9,"v":1},
{"r":6,"c":10,"v":1},{"r":6,"c":11,"v":1},{"r":6,"c":12,"v":1},{"r":6,"c":13,"v":1},{"r":6,"c":14,"v":1},{"r":6,"c":15,"v":1},{"r":6,"c":16,"v":1},{"r":6,"c":17,"v":1},{"r":6,"c":18,"v":1},{"r":6,"c":19,"v":1},
{"r":6,"c":20,"v":1},{"r":6,"c":21,"v":1},{"r":6,"c":22,"v":1},{"r":6,"c":23,"v":1},{"r":6,"c":24,"v":1},{"r":6,"c":25,"v":1},{"r":6,"c":26,"v":1},{"r":6,"c":27,"v":1},{"r":6,"c":28,"v":1},{"r":6,"c":29,"v":1},
{"r":6,"c":30,"v":1},{"r":6,"c":31,"v":1},{"r":6,"c":32,"v":1},{"r":6,"c":33,"v":1},{"r":6,"c":34,"v":1},{"r":6,"c":35,"v":1},{"r":6,"c":36,"v":1},{"r":6,"c":37,"v":1},{"r":6,"c":38,"v":1},{"r":6,"c":39,"v":1},
{"r":6,"c":40,"v":1},{"r":6,"c":41,"v":1},{"r":6,"c":42,"v":1},{"r":6,"c":43,"v":1},{"r":6,"c":44,"v":1},{"r":6,"c":45,"v":1},{"r":6,"c":46,"v":1},{"r":6,"c":47,"v":1},{"r":6,"c":48,"v":1},{"r":6,"c":49,"v":1},
{"r":6,"c":50,"v":1},{"r":6,"c":51,"v":1},{"r":6,"c":52,"v":1},{"r":6,"c":53,"v":1},{"r":6,"c":54,"v":1},{"r":6,"c":55,"v":1},{"r":6,"c":56,"v":1},{"r":6,"c":57,"v":1},{"r":6,"c":58,"v":1},{"r":6,"c":59,"v":1},
{"r":6,"c":60,"v":1},{"r":6,"c":61,"v":1},{"r":6,"c":62,"v":1},{"r":6,"c":63,"v":1},{"r":6,"c":64,"v":1},{"r":6,"c":65,"v":1},{"r":6,"c":66,"v":1},{"r":6,"c":67,"v":1},{"r":6,"c":68,"v":1},{"r":6,"c":69,"v":1},
{"r":6,"c":70,"v":1},{"r":6,"c":71,"v":1},{"r":6,"c":72,"v":1},{"r":6,"c":73,"v":1},{"r":6,"c":74,"v":1},{"r":6,"c":75,"v":1},{"r":6,"c":76,"v":1},{"r":6,"c":77,"v":1},{"r":6,"c":78,"v":1},{"r":6,"c":79,"v":1},
{"r":6,"c":80,"v":1},{"r":6,"c":81,"v":1},{"r":6,"c":82,"v":1},{"r":6,"c":83,"v":1},{"r":6,"c":84,"v":1},{"r":6,"c":85,"v":1},{"r":6,"c":86,"v":1},{"r":6,"c":87,"v":1},{"r":6,"c":88,"v":1},{"r":6,"c":89,"v":1},
{"r":6,"c":90,"v":1},{"r":6,"c":91,"v":1},{"r":6,"c":92,"v":1},{"r":6,"c":93,"v":1},{"r":6,"c":94,"v":1},{"r":6,"c":95,"v":1},{"r":6,"c":96,"v":1},{"r":6,"c":97,"v":1},{"r":6,"c":98,"v":1},{"r":6,"c":99,"v":1},
{"r":6,"c":100,"v":1},{"r":6,"c":101,"v":1},{"r":6,"c":102,"v":1},{"r":6,"c":103,"v":1},{"r":6,"c":104,"v":1},{"r":6,"c":105,"v":1},{"r":6,"c":106,"v":1},{"r":6,"c":107,"v":1},{"r":6,"c":108,"v":1},{"r":6,"c":109,"v":1},
{"r":6,"c":110,"v":1},{"r":6,"c":111,"v":1},{"r":6,"c":112,"v":1},{"r":6,"c":113,"v":1},{"r":6,"c":114,"v":1},{"r":6,"c":115,"v":1},{"r":6,"c":116,"v":1},{"r":6,"c":117,"v":1},{"r":6,"c":118,"v":1},{"r":6,"c":119,"v":1},
{"r":6,"c":120,"v":1},{"r":6,"c":121,"v":1},{"r":6,"c":122,"v":1},{"r":6,"c":123,"v":1},{"r":6,"c":124,"v":1},{"r":6,"c":125,"v":1},{"r":6,"c":126,"v":1},{"r":6,"c":127,"v":1},{"r":6,"c":128,"v":1},{"r":6,"c":129,"v":1},
{"r":6,"c":130,"v":1},{"r":6,"c":131,"v":1},{"r":6,"c":132,"v":1},{"r":6,"c":133,"v":1},{"r":6,"c":134,"v":1},{"r":6,"c":135,"v":1},{"r":6,"c":136,"v":1},{"r":6,"c":137,"v":1},{"r":6,"c":138,"v":1},{"r":6,"c":139,"v":1},
{"r":6,"c":140,"v":1},{"r":6,"c":141,"v":1},{"r":6,"c":142,"v":1},{"r":6,"c":143,"v":1},{"r":6,"c":144,"v":1},{"r":6,"c":145,"v":1},{"r":6,"c":146,"v":1},{"r":6,"c":147,"v":1},{"r":6,"c":148,"v":1},{"r":6,"c":149,"v":1},
{"r":6,"c":150,"v":1},{"r":6,"c":151,"v":1},{"r":6,"c":152,"v":1},{"r":6,"c":153,"v":1},{"r":6,"c":154,"v":1},{"r":6,"c":155,"v":1},{"r":6,"c":156,"v":1},{"r":6,"c":157,"v":1},{"r":6,"c":158,"v":1},{"r":6,"c":159,"v":1},
{"r":7,"c":0,"v":1},{"r":7,"c":1,"v":1},{"r":7,"c":2,"v":1},{"r":7,"c":3,"v":0},{"r":7,"c":4,"v":0},{"r":7,"c":5,"v":0},{"r":7,"c":6,"v":0},{"r":7,"c":7,"v":1},{"r":7,"c":8,"v":1},{"r":7,"c":9,"v":0},
{"r":7,"c":10,"v":0},{"r":7,"c":11,"v":0},{"r":7,"c":12,"v":0},{"r":7,"c":13,"v":0},{"r":7,"c":14,"v":0},{"r":7,"c":15,"v":0},{"r":7,"c":16,"v":0},{"r":7,"c":17,"v":0},{"r":7,"c":18,"v":0},{"r":7,"c":19,"v":0},
{"r":7,"c":20,"v":0},{"r":7,"c":21,"v":0},{"r":7,"c":22,"v":0},{"r":7,"c":23,"v":0},{"r":7,"c":24,"v":0},{"r":7,"c":25,"v":0},{"r":7,"c":26,"v":0},{"r":7,"c":27,"v":0},{"r":7,"c":28,"v":0},{"r":7,"c":29,"v":0},
{"r":7,"c":30,"v":0},{"r":7,"c":31,"v":0},{"r":7,"c":32,"v":0},{"r":7,"c":33,"v":0},{"r":7,"c":34,"v":0},{"r":7,"c":35,"v":0},{"r":7,"c":36,"v":0},{"r":7,"c":37,"v":0},{"r":7,"c":38,"v":0},{"r":7,"c":39,"v":0},
{"r":7,"c":40,"v":0},{"r":7,"c":41,"v":0},{"r":7,"c":42,"v":0.92},{"r":7,"c":43,"v":1},{"r":7,"c":44,"v":1},{"r":7,"c":45,"v":1},{"r":7,"c":46,"v":1},{"r":7,"c":47,"v":1},{"r":7,"c":48,"v":1},{"r":7,"c":49,"v":1},
{"r":7,"c":50,"v":1},{"r":7,"c":51,"v":1},{"r":7,"c":52,"v":1},{"r":7,"c":53,"v":0.51},{"r":7,"c":54,"v":0},{"r":7,"c":55,"v":0},{"r":7,"c":56,"v":0},{"r":7,"c":57,"v":0},{"r":7,"c":58,"v":0},{"r":7,"c":59,"v":0},
{"r":7,"c":60,"v":0},{"r":7,"c":61,"v":0},{"r":7,"c":62,"v":0},{"r":7,"c":63,"v":0},{"r":7,"c":64,"v":0},{"r":7,"c":65,"v":0},{"r":7,"c":66,"v":0},{"r":7,"c":67,"v":0},{"r":7,"c":68,"v":0},{"r":7,"c":69,"v":0},
{"r":7,"c":70,"v":0},{"r":7,"c":71,"v":0},{"r":7,"c":72,"v":0},{"r":7,"c":73,"v":0},{"r":7,"c":74,"v":0},{"r":7,"c":75,"v":0},{"r":7,"c":76,"v":0},{"r":7,"c":77,"v":0},{"r":7,"c":78,"v":0},{"r":7,"c":79,"v":0},
{"r":7,"c":80,"v":0},{"r":7,"c":81,"v":0},{"r":7,"c":82,"v":0},{"r":7,"c":83,"v":0},{"r":7,"c":84,"v":0},{"r":7,"c":85,"v":0},{"r":7,"c":86,"v":0},{"r":7,"c":87,"v":0},{"r":7,"c":88,"v":0},{"r":7,"c":89,"v":0},
{"r":7,"c":90,"v":0},{"r":7,"c":91,"v":0},{"r":7,"c":92,"v":0},{"r":7,"c":93,"v":0},{"r":7,"c":94,"v":0},{"r":7,"c":95,"v":0},{"r":7,"c":96,"v":0},{"r":7,"c":97,"v":0},{"r":7,"c":98,"v":0},{"r":7,"c":99,"v":0},
{"r":7,"c":100,"v":0},{"r":7,"c":101,"v":0},{"r":7,"c":102,"v":0},{"r":7,"c":103,"v":0},{"r":7,"c":104,"v":0},{"r":7,"c":105,"v":0},{"r":7,"c":106,"v":0},{"r":7,"c":107,"v":0},{"r":7,"c":108,"v":0},{"r":7,"c":109,"v":0},
{"r":7,"c":110,"v":0},{"r":7,"c":111,"v":0},{"r":7,"c":112,"v":0},{"r":7,"c":113,"v":0},{"r":7,"c":114,"v":0},{"r":7,"c":115,"v":0},{"r":7,"c":116,"v":0},{"r":7,"c":117,"v":0},{"r":7,"c":118,"v":0},{"r":7,"c":119,"v":0},
{"r":7,"c":120,"v":0},{"r":7,"c":121,"v":0},{"r":7,"c":122,"v":0},{"r":7,"c":123,"v":0},{"r":7,"c":124,"v":1},{"r":7,"c":125,"v":0},{"r":7,"c":126,"v":1},{"r":7,"c":127,"v":0},{"r":7,"c":128,"v":1},{"r":7,"c":129,"v":1},
{"r":7,"c":130,"v":0},{"r":7,"c":131,"v":0},{"r":7,"c":132,"v":0},{"r":7,"c":133,"v":1},{"r":7,"c":134,"v":0},{"r":7,"c":135,"v":0},{"r":7,"c":136,"v":1},{"r":7,"c":137,"v":0},{"r":7,"c":138,"v":0},{"r":7,"c":139,"v":0},
{"r":7,"c":140,"v":0},{"r":7,"c":141,"v":0},{"r":7,"c":142,"v":1},{"r":7,"c":143,"v":0},{"r":7,"c":144,"v":0},{"r":7,"c":145,"v":0},{"r":7,"c":146,"v":0},{"r":7,"c":147,"v":0},{"r":7,"c":148,"v":1},{"r":7,"c":149,"v":1},
{"r":7,"c":150,"v":0},{"r":7,"c":151,"v":1},{"r":7,"c":152,"v":0},{"r":7,"c":153,"v":1},{"r":7,"c":154,"v":0},{"r":7,"c":155,"v":1},{"r":7,"c":156,"v":0},{"r":7,"c":157,"v":1},{"r":7,"c":158,"v":1},{"r":7,"c":159,"v":1}
  ]},
  "layer": [
    {
      "mark": {"type": "rect", "strokeWidth": 0.8},
      "encoding": {
        "x": {
          "field": "c",
          "type": "ordinal",
          "scale": {"paddingInner": 0, "paddingOuter": 0},
          "axis": {"orient": "bottom", "values": [0, 20, 40, 60, 80, 100, 120, 140], "labelPadding": 26, "title": null}
        },
        "y": {
          "field": "r",
          "type": "ordinal",
          "scale": {"paddingInner": 0, "paddingOuter": 0},
          "axis": {"orient": "left", "labelPadding": 35, "title": null}
        },
        "color": {
          "field": "v",
          "type": "quantitative",
          "scale": {"domain": [0, 1], "range": ["#008066", "#ffff66"], "interpolate": "rgb"},
          "legend": null
        },
        "stroke": {
          "field": "v",
          "type": "quantitative",
          "scale": {"domain": [0, 1], "range": ["#008066", "#ffff66"], "interpolate": "rgb"},
          "legend": null
        }
      }
    },
    {
      "mark": {"type": "rect", "opacity": 0},
      "encoding": {
        "x": {
          "field": "c",
          "type": "ordinal",
          "axis": {"orient": "top", "values": [0, 20, 40, 60, 80, 100, 120, 140], "labels": false, "title": null}
        },
        "y": {
          "field": "r",
          "type": "ordinal",
          "axis": {"orient": "right", "labels": false, "title": null}
        }
      }
    }
  ],
  "resolve": {"axis": {"x": "independent", "y": "independent"}}
}
